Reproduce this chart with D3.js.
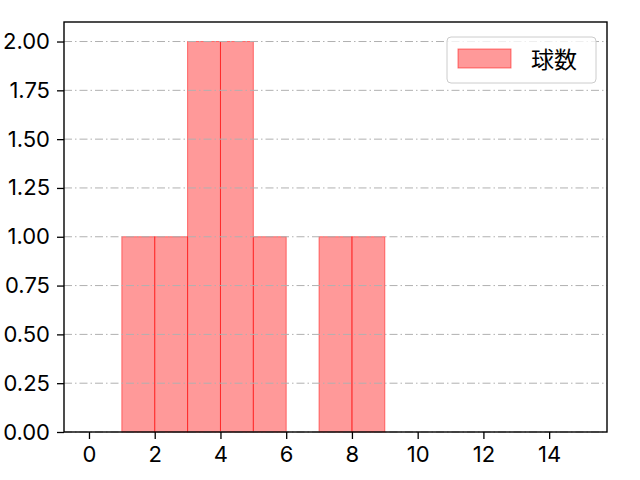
<!DOCTYPE html>
<html>
<head>
<meta charset="utf-8">
<script src="https://cdn.jsdelivr.net/npm/d3@7"></script>
<style>
  body { margin: 0; background: #fff; }
  text { font-family: Inter, "Noto Sans", sans-serif; }
</style>
</head>
<body>
<svg id="chart" width="640" height="480"></svg>
<script>
// histogram bins (left edge, right edge) and counts
const binStarts = [1, 2, 3, 4, 5, 6, 7, 8]
const binEnds = [2, 3, 4, 5, 6, 7, 8, 9]
const counts = [1, 1, 2, 2, 1, 0, 1, 1]
const xTicks = [0, 2, 4, 6, 8, 10, 12, 14]
const yTicks = [0, 0.25, 0.5, 0.75, 1, 1.25, 1.5, 1.75, 2]
const seriesName = '球数'

const margin = { top: 22, right: 33, bottom: 48, left: 64 }
const width = 640 - margin.left - margin.right
const height = 480 - margin.top - margin.bottom

const svg = d3.select('#chart')
const g = svg.append('g')
  .attr('transform', `translate(${margin.left}, ${margin.top})`)

const xScale = d3.scaleLinear().domain([-0.76, 15.76]).range([0, width])
const yScale = d3.scaleLinear().domain([0, 2.1]).range([height, 0])

// bars
const bins = binStarts.map((s, i) => ({ x0: s, x1: binEnds[i], n: counts[i] }))
  .filter(d => d.n > 0)

g.selectAll('.bar')
  .data(bins)
  .enter().append('rect')
  .attr('class', 'bar')
  .attr('x', d => xScale(d.x0))
  .attr('y', d => yScale(d.n))
  .attr('width', d => xScale(d.x1) - xScale(d.x0))
  .attr('height', d => yScale(0) - yScale(d.n))
  .attr('fill', '#ff0000')
  .attr('fill-opacity', 0.4)
  .attr('stroke', '#ff0000')
  .attr('stroke-opacity', 0.5)
  .attr('stroke-width', 1)

// grid on top of bars
g.selectAll('.grid')
  .data(yTicks)
  .enter().append('line')
  .attr('class', 'grid')
  .attr('x1', 0)
  .attr('x2', width)
  .attr('y1', d => yScale(d))
  .attr('y2', d => yScale(d))
  .attr('stroke', '#b0b0b0')
  .attr('stroke-width', 1)
  .attr('stroke-dasharray', '8,3,1.5,3')

// axes
const xAxis = g.append('g')
  .attr('transform', `translate(0, ${height})`)
  .call(d3.axisBottom(xScale).tickValues(xTicks).tickSize(7).tickPadding(7).tickFormat(d3.format('d')))

const yAxis = g.append('g')
  .call(d3.axisLeft(yScale).tickValues(yTicks).tickSize(7).tickPadding(7).tickFormat(d3.format('.2f')))

for (const ax of [xAxis, yAxis]) {
  ax.select('.domain').remove()
  ax.selectAll('line').attr('stroke', '#000').attr('stroke-width', 1.3)
  ax.selectAll('text').attr('fill', '#000')
    .style('font-size', '22px')
    .style('font-family', 'Inter, sans-serif')
}

// frame
g.append('rect')
  .attr('x', 0)
  .attr('y', 0)
  .attr('width', width)
  .attr('height', height)
  .attr('fill', 'none')
  .attr('stroke', '#000')
  .attr('stroke-width', 1.4)

// legend
const legend = g.append('g').attr('transform', `translate(${width - 160}, 15)`)
legend.append('rect')
  .attr('width', 149)
  .attr('height', 46)
  .attr('rx', 4)
  .attr('fill', '#fff')
  .attr('fill-opacity', 0.8)
  .attr('stroke', '#cccccc')
legend.append('rect')
  .attr('x', 11)
  .attr('y', 12)
  .attr('width', 53)
  .attr('height', 19)
  .attr('fill', '#ff0000')
  .attr('fill-opacity', 0.4)
  .attr('stroke', '#ff0000')
  .attr('stroke-opacity', 0.5)
legend.append('text')
  .attr('x', 84)
  .attr('y', 31)
  .style('font-size', '23px')
  .style('font-family', '"Noto Sans CJK JP", sans-serif')
  .text(seriesName)
</script>
</body>
</html>
